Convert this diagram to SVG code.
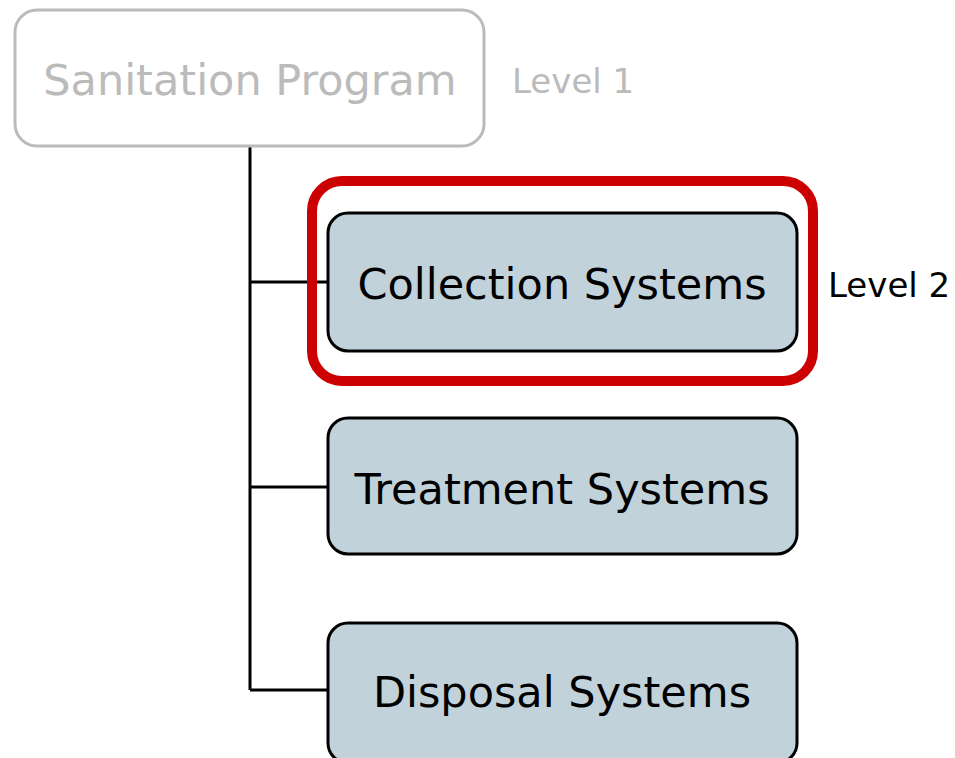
<svg xmlns="http://www.w3.org/2000/svg" width="955" height="758" viewBox="0 0 955 758">
  <style>
    .node { fill: #c1d2da; stroke: #000; stroke-width: 3; }
    .root { fill: #fff; stroke: #bbbbbb; stroke-width: 3; }
    .label { font-family: "DejaVu Sans", Verdana, sans-serif; font-size: 43px; text-anchor: middle; fill: #000; }
    .level { font-family: "DejaVu Sans", Verdana, sans-serif; font-size: 34px; fill: #000; }
    .conn { fill: none; stroke: #000; stroke-width: 3; }
    .focus { fill: none; stroke: #cc0000; stroke-width: 10; }
  </style>
  <rect width="955" height="758" fill="#fff"/>

  <!-- tree connectors -->
  <g id="connectors">
    <path class="conn" d="M250,146 V690"/>
    <path class="conn" d="M250,282 H328"/>
    <path class="conn" d="M250,487 H328"/>
    <path class="conn" d="M250,690 H328"/>
  </g>

  <g id="sanitation-program">
    <rect class="root" x="15" y="10" width="469" height="136" rx="22"/>
    <text class="label" x="250" y="95" style="fill:#bbbbbb">Sanitation Program</text>
    <text class="level" x="512" y="93" style="fill:#bbbbbb">Level 1</text>
  </g>

  <g id="collection-systems">
    <rect class="focus" x="312" y="181" width="501" height="200" rx="30"/>
    <rect class="node" x="328" y="213" width="469" height="138" rx="20"/>
    <text class="label" x="562" y="299">Collection Systems</text>
    <text class="level" x="828" y="297">Level 2</text>
  </g>

  <g id="treatment-systems">
    <rect class="node" x="328" y="418" width="469" height="136" rx="20"/>
    <text class="label" x="562" y="504">Treatment Systems</text>
  </g>

  <g id="disposal-systems">
    <rect class="node" x="328" y="623" width="469" height="140" rx="20"/>
    <text class="label" x="562" y="707">Disposal Systems</text>
  </g>
</svg>
